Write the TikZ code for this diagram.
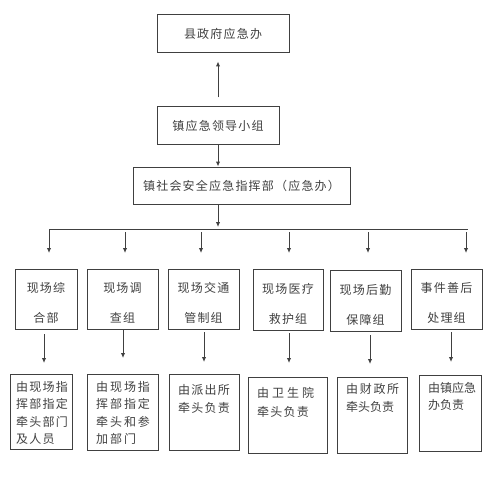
\documentclass[tikz,border=0pt]{standalone}
\usepackage{fontspec}
\usepackage{tikz}
\usetikzlibrary{positioning,arrows.meta}
\newfontfamily\cjk[LetterSpace=10]{Noto Sans CJK SC}
\definecolor{ink}{rgb}{0.25,0.25,0.25}

\begin{document}
\begin{tikzpicture}[x=1pt, y=-1pt,
    box/.style={draw=ink, line width=1pt, inner sep=0pt},
    topbox/.style={box, font=\cjk\fontsize{12}{14}\selectfont, text=ink},
    grouptext/.style={inner sep=0pt, align=center, text=ink, font=\cjk\fontsize{12}{30}\selectfont},
    dutytext/.style={inner sep=0pt, align=left, anchor=north west, text=ink, font=\cjk\fontsize{12}{17.5}\selectfont},
    arr/.style={draw=ink, line width=1pt, -{Latex[length=5pt,width=4.5pt]}}]

      \useasboundingbox (0,0) rectangle (482,500);

      % upper part
      \node [topbox, minimum width=132, minimum height=38] at (223, 34) (gov) {县政府应急办};
      \node [topbox, minimum width=122, minimum height=37] at (218, 125.5) (lead) {镇应急领导小组};
      \node [topbox, minimum width=217, minimum height=37] at (241.5, 185.5) (cmd) {镇社会安全应急指挥部（应急办）};

      \draw [arr, shorten <=9pt, shorten >=8pt] (lead.north) -- (lead.north |- gov.south);
      \draw [arr] (lead.south) -- (cmd.north -| lead.south);

      \coordinate (busL) at (49, 229);
      \coordinate (busR) at (468, 229);
      \coordinate (busM) at (218, 229);
      \draw [arr, shorten >=2pt] (cmd.south -| busM) -- (busM);
      \draw [draw=ink, line width=1pt] (busL) -- (busR);

      % drops to the groups
      \foreach \i/\x/\s in {1/49/229, 2/125/232, 3/201/232, 4/289/232, 5/368/232, 6/466/232} {
        \coordinate (d\i) at (\x, \s);
        \coordinate (t\i) at (\x, 253);
        \draw [arr] (d\i) -- (t\i);
      }

      % groups
      \node [box, minimum width=62, minimum height=60] at (46, 299) (g1) {};
      \node [box, minimum width=71, minimum height=60] at (122.5, 299) (g2) {};
      \node [box, minimum width=71, minimum height=60] at (203.5, 299) (g3) {};
      \node [box, minimum width=70, minimum height=61] at (288, 299.5) (g4) {};
      \node [box, minimum width=71, minimum height=61] at (365.5, 300.5) (g5) {};
      \node [box, minimum width=71, minimum height=60] at (446.5, 299) (g6) {};

      \node [grouptext] at (46, 303) (g1t) {现场综\\合部};
      \node [grouptext] at (122.5, 303) (g2t) {现场调\\查组};
      \node [grouptext] at (203.5, 303) (g3t) {现场交通\\管制组};
      \node [grouptext] at (288, 304) (g4t) {现场医疗\\救护组};
      \node [grouptext] at (365.5, 305) (g5t) {现场后勤\\保障组};
      \node [grouptext] at (446.5, 303) (g6t) {事件善后\\处理组};

      % who is in charge
      \node [box, minimum width=62, minimum height=75, anchor=north west] at (10, 374) (r1) {};
      \node [box, minimum width=71, minimum height=76, anchor=north west] at (87, 374) (r2) {};
      \node [box, minimum width=70, minimum height=76, anchor=north west] at (169, 374) (r3) {};
      \node [box, minimum width=79, minimum height=76, anchor=north west] at (248, 377) (r4) {};
      \node [box, minimum width=70, minimum height=76, anchor=north west] at (337, 377) (r5) {};
      \node [box, minimum width=62, minimum height=76, anchor=north west] at (419, 375) (r6) {};

      \node [dutytext] at ([xshift=6pt, yshift=-7pt]r1.north west) (r1t) {由现场指\\挥部指定\\牵头部门\\及人员};
      \node [dutytext, font=\cjk\addfontfeature{LetterSpace=16}\fontsize{12}{17.5}\selectfont]
            at ([xshift=9pt, yshift=-7pt]r2.north west) (r2t) {由现场指\\挥部指定\\牵头和参\\加部门};
      \node [dutytext, font=\cjk\fontsize{12}{18.5}\selectfont] at ([xshift=9pt, yshift=-10pt]r3.north west) (r3t) {由派出所\\牵头负责};
      \node [dutytext, font=\cjk\fontsize{12}{19}\selectfont] at ([xshift=9pt, yshift=-10pt]r4.north west) (r4t)
            {{\addfontfeature{LetterSpace=25}由卫生院}\\牵头负责};
      \node [dutytext, font=\cjk\fontsize{12}{18}\selectfont] at ([xshift=9pt, yshift=-6pt]r5.north west) (r5t)
            {{\addfontfeature{LetterSpace=14}由财政所}\\{\addfontfeature{LetterSpace=0}牵头负责}};
      \node [dutytext, font=\cjk\addfontfeature{LetterSpace=0}\fontsize{12}{16.7}\selectfont]
            at ([xshift=9pt, yshift=-7pt]r6.north west) (r6t) {由镇应急\\办负责};

      % arrows between the two rows
      \foreach \i/\x/\a/\b in {1/44/334/363, 2/123/329/358, 3/204/332/362, 4/289/333/363, 5/370/335/364, 6/451/332/362} {
        \coordinate (u\i) at (\x, \a);
        \coordinate (v\i) at (\x, \b);
        \draw [arr] (u\i) -- (v\i);
      }
    \end{tikzpicture}
\end{document}
